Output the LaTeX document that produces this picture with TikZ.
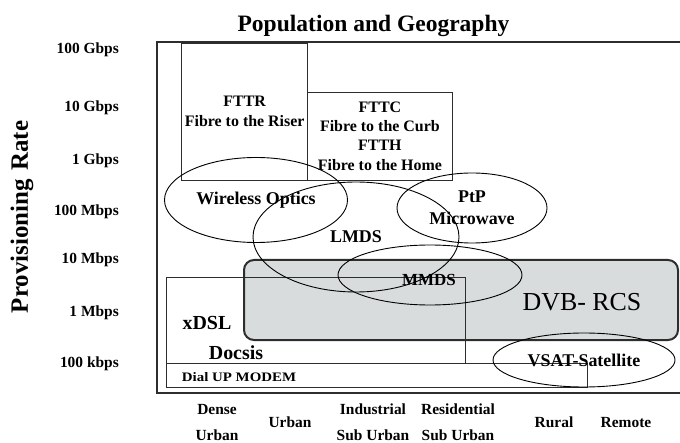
\documentclass[tikz,border=0pt]{standalone}
\usepackage{fontspec}
\setmainfont{Liberation Serif}
\usetikzlibrary{shapes.geometric}
\definecolor{dvbgrey}{RGB}{217,220,221}
\definecolor{linegrey}{RGB}{45,45,45}
\begin{document}
\begin{tikzpicture}[x=1bp,y=-1bp,
  frameline/.style={draw=linegrey, line width=1.3bp},
  techbox/.style={rectangle, draw=linegrey, line width=0.9bp, inner sep=0, align=center,
    font=\bfseries\fontsize{16}{19.5}\selectfont},
  zone/.style={ellipse, draw=black, line width=0.9bp, inner sep=0, align=center,
    font=\bfseries\fontsize{18}{22}\selectfont},
  ratelbl/.style={anchor=base east, inner sep=0, font=\bfseries\fontsize{15.5}{18}\selectfont},
  arealbl/.style={anchor=base, inner sep=0, font=\bfseries\fontsize{15.5}{18}\selectfont},
  plain/.style={inner sep=0}]
\useasboundingbox (0,0) rectangle (680,443);

% shaded satellite band
\node[draw=linegrey, line width=2bp, fill=dvbgrey, rounded corners=10bp,
  minimum width=434bp, minimum height=80bp, inner sep=0] (dvb) at (461,300) {};
\node[plain, font=\fontsize{26}{30}\selectfont] (dvbtxt) at (582,302) {DVB- RCS};

% outer frame (open on the right)
\draw[frameline] (690,42) -- (157,42) -- (157,393) -- (690,393);

% titles
\node[plain, anchor=base, font=\bfseries\fontsize{23.6}{28}\selectfont] (title) at (373.5,32) {Population and Geography};
\node[plain, rotate=90, font=\bfseries\fontsize{25}{30}\selectfont] (ytitle) at (22,217) {Provisioning\hspace{0.35em}Rate};

% rate axis
\node[ratelbl] (r1) at (119,53.3) {100 Gbps};
\node[ratelbl] (r2) at (119,111.3) {10 Gbps};
\node[ratelbl] (r3) at (119,164.3) {1 Gbps};
\node[ratelbl] (r4) at (119,215.3) {100 Mbps};
\node[ratelbl] (r5) at (119,263.3) {10 Mbps};
\node[ratelbl] (r6) at (119,316.3) {1 Mbps};
\node[ratelbl] (r7) at (119,367.3) {100 kbps};

% area axis
\node[arealbl] (a1) at (217,414) {Dense};
\node[arealbl] (a1b) at (217,440) {Urban};
\node[arealbl] (a2) at (290,427) {Urban};
\node[arealbl] (a3) at (373,414) {Industrial};
\node[arealbl] (a3b) at (373,440) {Sub Urban};
\node[arealbl] (a4) at (458,414) {Residential};
\node[arealbl] (a4b) at (458,440) {Sub Urban};
\node[arealbl] (a5) at (554,427) {Rural};
\node[arealbl] (a6) at (626,427) {Remote};

% fibre
\node[techbox, minimum width=126bp, minimum height=137bp] (fttr) at (244.7,111.5)
  {FTTR\\Fibre to the Riser};
\node[techbox, minimum width=144.3bp, minimum height=88bp] (fttc) at (379.9,136)
  {FTTC\\Fibre to the Curb\\FTTH\\Fibre to the Home};

% wired access
\node[techbox, minimum width=299bp, minimum height=86bp] (xdsl) at (315.5,320) {};
\node[techbox, minimum width=421bp, minimum height=24bp] (dial) at (376.5,375) {};
\node[plain, font=\bfseries\fontsize{20}{24}\selectfont] (xdsltxt) at (207,323) {xDSL};
\node[plain, font=\bfseries\fontsize{20}{24}\selectfont] (docsis) at (236,353) {Docsis};
\node[plain, font=\bfseries\fontsize{13}{15}\selectfont] (dialtxt) at (239,377)
  {\scalebox{1.15}[1]{Dial UP MODEM}};

% wireless zones
\node[zone, minimum width=183bp, minimum height=85bp] (wo) at (256,200) {Wireless Optics};
\node[zone, minimum width=206bp, minimum height=110bp] (lmds) at (356,237) {LMDS};
\node[zone, minimum width=150bp, minimum height=70bp] (ptp) at (472,208) {PtP\\Microwave};
\node[zone, minimum width=184bp, minimum height=60bp] (mmds) at (430,275) {};
\node[plain, font=\bfseries\fontsize{17}{20}\selectfont] (mmdstxt) at (429,280) {MMDS};
\node[zone, minimum width=182bp, minimum height=54bp] (vsat) at (584,360) {VSAT-Satellite};
\end{tikzpicture}
\end{document}
